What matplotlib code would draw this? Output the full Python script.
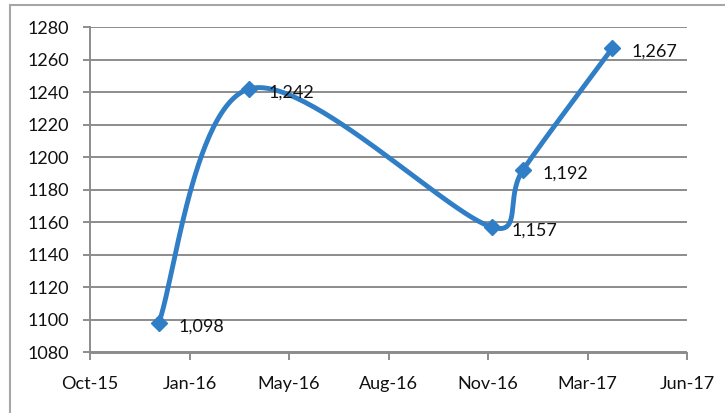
import numpy as np
import matplotlib
matplotlib.use("Agg")
import matplotlib.pyplot as plt
import matplotlib.dates as mdates
from matplotlib.patches import Rectangle
import datetime as dt

# ---- data ----
dates = ["2015-12-31", "2016-03-31", "2016-11-30", "2016-12-31", "2017-03-31"]
values = [1098, 1242, 1157, 1192, 1267]
labels = ["1,098", "1,242", "1,157", "1,192", "1,267"]
x_start = "2015-10-23"
x_end = "2017-06-14"
tick_step_days = 100
y_min, y_max, y_step = 1080, 1280, 20

plt.rcParams['font.family'] = ['Lato', 'DejaVu Sans']

W, H = 725, 413
fig = plt.figure(figsize=(W / 100, H / 100), dpi=100)
ax = fig.add_axes([90 / W, 1 - 352.5 / H, (687 - 90) / W, (352.5 - 27) / H])

xd = mdates.date2num([dt.datetime.fromisoformat(d) for d in dates])
x0 = mdates.date2num(dt.datetime.fromisoformat(x_start))
x1 = mdates.date2num(dt.datetime.fromisoformat(x_end))
yv = np.array(values, dtype=float)

# Excel-like smoothed line, computed in pixel space
pw, ph = 597.0, 325.5
px = (xd - x0) / (x1 - x0) * pw
py = (yv - y_min) / (y_max - y_min) * ph
P = np.column_stack([px, py])
n = len(P)
curve = []
for i in range(n - 1):
    p0 = P[max(i - 1, 0)]
    p1 = P[i]
    p2 = P[i + 1]
    p3 = P[min(i + 2, n - 1)]
    d12 = np.linalg.norm(p2 - p1)
    t1 = (p2 - p0) / 6.0
    t2 = (p3 - p1) / 6.0
    if np.linalg.norm(t1) > d12 / 2:
        t1 = t1 / np.linalg.norm(t1) * d12 / 2
    if np.linalg.norm(t2) > d12 / 2:
        t2 = t2 / np.linalg.norm(t2) * d12 / 2
    c1 = p1 + t1
    c2 = p2 - t2
    t = np.linspace(0, 1, 60)[:, None]
    seg = ((1 - t) ** 3) * p1 + 3 * ((1 - t) ** 2) * t * c1 + 3 * (1 - t) * t ** 2 * c2 + t ** 3 * p2
    curve.append(seg if i == 0 else seg[1:])
curve = np.vstack(curve)
cx = x0 + curve[:, 0] / pw * (x1 - x0)
cy = y_min + curve[:, 1] / ph * (y_max - y_min)

color = "#2F7EC6"
ax.plot(cx, cy, color=color, lw=3.5, solid_capstyle="round", zorder=3)
ax.plot(xd, yv, linestyle="none", marker="D", markersize=8.5, color=color, zorder=4)

for x, y, lab in zip(xd, yv, labels):
    ax.annotate(lab, (x, y), xytext=(14, -2.5), textcoords="offset points",
                ha="left", va="center", fontsize=13, color="#111111", zorder=5)

ax.set_xlim(x0, x1)
ax.set_ylim(y_min, y_max)
ax.set_xticks(np.arange(x0, x1 + 1, tick_step_days))
ax.xaxis.set_major_formatter(mdates.DateFormatter("%b-%y"))
ax.set_yticks(np.arange(y_min, y_max + 1, y_step))

grid_c = "#8C8C8C"
ax.grid(axis="y", color=grid_c, lw=1.4)
ax.set_axisbelow(True)
for s in ["top", "right"]:
    ax.spines[s].set_visible(False)
for s in ["left", "bottom"]:
    ax.spines[s].set_color(grid_c)
    ax.spines[s].set_linewidth(1.4)
ax.tick_params(axis="both", color=grid_c, width=1.4, length=5, labelsize=13, labelcolor="#111111")
ax.tick_params(axis="y", pad=10)
ax.tick_params(axis="x", pad=12)

# outer chart border
fig.add_artist(Rectangle((10 / W, -0.1), 1.2, 1 - 5 / H + 0.1, transform=fig.transFigure,
                         fill=False, edgecolor="#A6A6A6", lw=1.5))

fig.savefig("out.png", dpi=100)
